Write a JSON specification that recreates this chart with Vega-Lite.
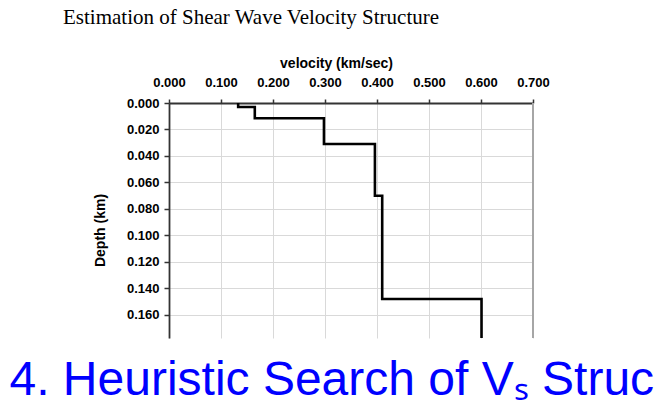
{
  "$schema": "https://vega.github.io/schema/vega-lite/v6.json",
  "width": 364,
  "height": 235,
  "autosize": {"type": "none"},
  "padding": {"left": 169, "top": 103, "right": 121, "bottom": 74},
  "background": "white",
  "title": {
    "text": "Estimation of Shear Wave Velocity Structure",
    "font": "Liberation Serif",
    "fontSize": 21,
    "fontWeight": "normal",
    "color": "black",
    "anchor": "start",
    "frame": "group",
    "dx": -106,
    "dy": -20,
    "offset": 8
  },
  "config": {
    "view": {"stroke": null},
    "axis": {
      "labelFont": "Liberation Sans",
      "labelFontWeight": "bold",
      "labelFontSize": 13,
      "labelColor": "black",
      "labelFlush": false,
      "labelOverlap": false,
      "titleFont": "Liberation Sans",
      "titleFontWeight": "bold",
      "titleFontSize": 14,
      "titleColor": "black",
      "gridColor": "#d9d9d9",
      "gridWidth": 1,
      "domainColor": "#333333",
      "domainWidth": 1.8,
      "tickColor": "#333333",
      "tickWidth": 1.5
    }
  },
  "datasets": {
    "profile": [
      {"i": 0, "v": 0.133, "d": 0.0},
      {"i": 1, "v": 0.133, "d": 0.003},
      {"i": 2, "v": 0.165, "d": 0.003},
      {"i": 3, "v": 0.165, "d": 0.0115},
      {"i": 4, "v": 0.298, "d": 0.0115},
      {"i": 5, "v": 0.298, "d": 0.031},
      {"i": 6, "v": 0.396, "d": 0.031},
      {"i": 7, "v": 0.396, "d": 0.07},
      {"i": 8, "v": 0.41, "d": 0.07},
      {"i": 9, "v": 0.41, "d": 0.148},
      {"i": 10, "v": 0.601, "d": 0.148},
      {"i": 11, "v": 0.601, "d": 0.25}
    ],
    "border": [{"v": 0.7}]
  },
  "resolve": {"axis": {"x": "independent"}},
  "layer": [
    {
      "data": {"name": "profile"},
      "mark": {"type": "line", "color": "black", "strokeWidth": 2.6, "clip": true, "strokeJoin": "miter"},
      "encoding": {
        "x": {
          "field": "v",
          "type": "quantitative",
          "scale": {"domain": [0, 0.7], "nice": false, "zero": false},
          "axis": {
            "orient": "top",
            "title": "velocity (km/sec)",
            "values": [0, 0.1, 0.2, 0.3, 0.4, 0.5, 0.6, 0.7],
            "format": ".3f",
            "tickSize": 4,
            "labelPadding": 10,
            "titleX": 167,
            "titleY": -36,
            "titleBaseline": "alphabetic",
            "titleAlign": "center"
          }
        },
        "y": {
          "field": "d",
          "type": "quantitative",
          "scale": {"domain": [0, 0.1775], "nice": false, "zero": false, "reverse": true},
          "axis": {
            "title": "Depth (km)",
            "values": [0, 0.02, 0.04, 0.06, 0.08, 0.1, 0.12, 0.14, 0.16],
            "format": ".3f",
            "tickSize": 5,
            "labelPadding": 5,
            "titleX": -65,
            "titleY": 127,
            "titleAngle": -90,
            "titleAlign": "center",
            "titleBaseline": "alphabetic"
          }
        },
        "order": {"field": "i", "type": "quantitative"}
      }
    },
    {
      "data": {"name": "border"},
      "mark": {"type": "rule", "color": "#a6a6a6", "strokeWidth": 2},
      "encoding": {
        "x": {
          "field": "v",
          "type": "quantitative",
          "axis": {
            "orient": "bottom",
            "title": "4. Heuristic Search of Vₛ Struc",
            "labels": false,
            "ticks": false,
            "domain": false,
            "grid": false,
            "titleFont": "Liberation Sans",
            "titleFontWeight": "normal",
            "titleFontSize": 48,
            "titleColor": "#0000ff",
            "titleAnchor": "start",
            "titleAlign": "left",
            "titleBaseline": "alphabetic",
            "titleX": -160,
            "titleY": 56,
            "titleLimit": 2000
          }
        }
      }
    }
  ]
}
